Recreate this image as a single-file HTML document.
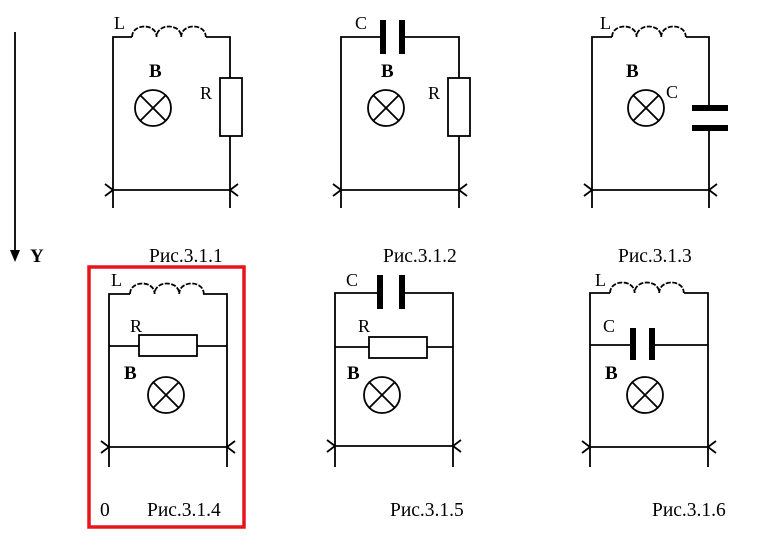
<!DOCTYPE html>
<html><head><meta charset="utf-8"><style>
body{margin:0;background:#fff;}
svg{display:block;font-family:"Liberation Serif",serif;}
text{font-size:18px;fill:#000;}
.b{font-weight:bold;font-size:19px;}
.c{font-size:19.5px;}
</style></head><body>
<svg width="761" height="542" viewBox="0 0 761 542" xmlns="http://www.w3.org/2000/svg">
<defs>
<g id="lamp"><circle cx="0" cy="0" r="18" fill="none" stroke="#000" stroke-width="1.8"/><path d="M-12.7,-12.7L12.7,12.7M12.7,-12.7L-12.7,12.7" stroke="#000" stroke-width="1.8"/></g>
<g id="ind"><path d="M0,0 C0,-14 24.6,-14 24.6,0 C24.6,-14 49.2,-14 49.2,0 C49.2,-14 73.8,-14 73.8,0" fill="none" stroke="#000" stroke-width="1.8" stroke-dasharray="5,1.5"/></g>
</defs>
<g stroke="#000" stroke-width="1.8" fill="none">
<line x1="15" y1="32" x2="15" y2="252"/>
<path d="M113,208V37H132M206,37H230V78M230,136V208M113,190H230M105,184L113,190L105,196M238,184L230,190L238,196"/>
<rect x="220" y="78" width="22" height="58"/>
<path d="M341,208V37H383M402,37H459V78M459,136V208M341,190H459M333,184L341,190L333,196M467,184L459,190L467,196"/>
<rect x="448" y="78" width="22" height="58"/>
<path d="M592,208V37H612M686,37H709V108M709,128V208M592,190H709M584,184L592,190L584,196M717,184L709,190L717,196"/>
<path d="M109,467V294H130M203,294H227V467M109,346H139M197,346H227M109,447H227M101,441L109,447L101,453M235,441L227,447L235,453"/>
<rect x="139" y="335" width="58" height="21"/>
<path d="M335,467V293H380M402,293H453V467M335,347H369M427,347H453M335,446H453M327,440L335,446L327,452M461,440L453,446L461,452"/>
<rect x="369" y="337" width="58" height="21"/>
<path d="M590,467V293H610M684,293H708V467M590,345H633M652,345H708M590,447H708M582,441L590,447L582,453M716,441L708,447L716,453"/>
</g>
<polygon points="10,250 20,250 15,262" fill="#000"/>
<use href="#ind" x="132" y="37"/>
<use href="#ind" x="612" y="37"/>
<use href="#ind" x="130" y="294"/>
<use href="#ind" x="610" y="293"/>
<use href="#lamp" x="153" y="108"/>
<use href="#lamp" x="386" y="108"/>
<use href="#lamp" x="646" y="108"/>
<use href="#lamp" x="166" y="395"/>
<use href="#lamp" x="382" y="395"/>
<use href="#lamp" x="645" y="395"/>
<g fill="#000">
<rect x="380" y="20" width="6" height="34"/><rect x="399" y="20" width="6" height="34"/>
<rect x="692" y="105" width="36" height="6"/><rect x="692" y="125" width="36" height="6"/>
<rect x="377" y="275" width="6" height="34"/><rect x="399" y="275" width="6" height="34"/>
<rect x="630" y="328" width="6" height="32"/><rect x="649" y="328" width="6" height="32"/>
</g>
<rect x="89" y="267" width="155" height="260" fill="none" stroke="#e8141c" stroke-width="3.5"/>
<text x="114" y="29">L</text><text x="149" y="77" class="b">B</text><text x="200" y="99">R</text>
<text x="355" y="29">C</text><text x="381" y="77" class="b">B</text><text x="428" y="99">R</text>
<text x="600" y="29">L</text><text x="626" y="77" class="b">B</text><text x="666" y="98">C</text>
<text x="111" y="286">L</text><text x="130" y="332">R</text><text x="124" y="379" class="b">B</text>
<text x="346" y="286">C</text><text x="358" y="332">R</text><text x="347" y="379" class="b">B</text>
<text x="595" y="286">L</text><text x="603" y="332">C</text><text x="605" y="379" class="b">B</text>
<text x="30" y="262" class="b">Y</text>
<text x="149" y="262" class="c">Рис.3.1.1</text>
<text x="383" y="262" class="c">Рис.3.1.2</text>
<text x="618" y="262" class="c">Рис.3.1.3</text>
<text x="100" y="516" class="c">0</text>
<text x="147" y="516" class="c">Рис.3.1.4</text>
<text x="390" y="516" class="c">Рис.3.1.5</text>
<text x="652" y="516" class="c">Рис.3.1.6</text>
</svg>
</body></html>
